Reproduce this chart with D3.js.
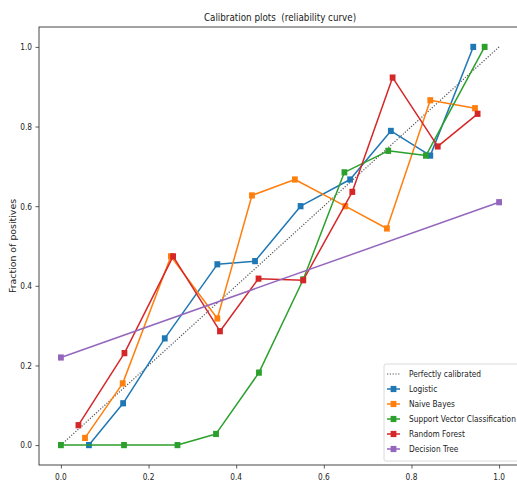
<!DOCTYPE html>
<html>
<head>
<meta charset="utf-8">
<script src="https://cdn.jsdelivr.net/npm/d3@7"></script>
<style>
  html, body { margin: 0; padding: 0; background: #fff; }
  svg { display: block; }
  text { font-family: "DejaVu Sans", sans-serif; fill: #222; white-space: pre; }
</style>
</head>
<body>
<svg id="chart" width="517" height="482"></svg>
<script>
// ---- data ----
const seriesNames = ["Logistic", "Naive Bayes", "Support Vector Classification", "Random Forest", "Decision Tree"];
const seriesColors = ["#1f77b4", "#ff7f0e", "#2ca02c", "#d62728", "#9467bd"];
const calibX = [0, 1];
const calibY = [0, 1];
const logX = [0.064, 0.142, 0.237, 0.357, 0.443, 0.547, 0.66, 0.753, 0.843, 0.941];
const logY = [0.0, 0.105, 0.268, 0.454, 0.462, 0.60, 0.667, 0.789, 0.727, 1.0];
const nbX = [0.055, 0.141, 0.251, 0.357, 0.436, 0.534, 0.649, 0.744, 0.843, 0.945];
const nbY = [0.018, 0.155, 0.474, 0.318, 0.627, 0.667, 0.60, 0.544, 0.866, 0.846];
const svcX = [0.0, 0.144, 0.266, 0.354, 0.452, 0.553, 0.647, 0.747, 0.833, 0.967];
const svcY = [0.0, 0.0, 0.0, 0.028, 0.182, 0.416, 0.685, 0.739, 0.727, 1.0];
const rfX = [0.04, 0.145, 0.256, 0.363, 0.451, 0.553, 0.665, 0.757, 0.86, 0.951];
const rfY = [0.05, 0.231, 0.474, 0.286, 0.418, 0.414, 0.636, 0.923, 0.75, 0.832];
const dtX = [0.0, 1.0];
const dtY = [0.22, 0.61];
const xTicks = [0.0, 0.2, 0.4, 0.6, 0.8, 1.0];
const yTicks = [0.0, 0.2, 0.4, 0.6, 0.8, 1.0];
const titleText = "Calibration plots  (reliability curve)";
const yLabelText = "Fraction of positives";
const calibLabel = "Perfectly calibrated";

const seriesX = [logX, nbX, svcX, rfX, dtX];
const seriesY = [logY, nbY, svcY, rfY, dtY];

// ---- layout ----
const svg = d3.select("#chart");
const L = 39, R = 521, T = 27, B = 465;
const SX = 0.79; // horizontal squeeze of text
const x = d3.scaleLinear().domain([-0.05, 1.05]).range([L, R]);
const y = d3.scaleLinear().domain([-0.05, 1.05]).range([B, T]);

function addText(g, tx, ty, str, size, anchor, rot) {
  const t = g.append("text")
    .attr("transform", `translate(${tx},${ty})` + (rot ? ` rotate(${rot})` : ` scale(${SX},1)`))
    .attr("font-size", size)
    .attr("text-anchor", anchor || "start")
    .attr("xml:space", "preserve")
    .text(str);
  return t;
}

// clip
svg.append("clipPath").attr("id", "clip")
  .append("rect").attr("x", L).attr("y", T).attr("width", R - L).attr("height", B - T);

// axes
const xAxis = d3.axisBottom(x).tickValues(xTicks).tickSize(3.5).tickFormat(d3.format(".1f"));
const yAxis = d3.axisLeft(y).tickValues(yTicks).tickSize(3.5).tickFormat(d3.format(".1f"));

const gx = svg.append("g").attr("transform", `translate(0,${B})`).call(xAxis);
const gy = svg.append("g").attr("transform", `translate(${L},0)`).call(yAxis);
[gx, gy].forEach(g => {
  g.select(".domain").remove();
  g.selectAll(".tick line").attr("stroke", "#333").attr("stroke-width", 0.8);
  g.selectAll(".tick text").remove();
});
xTicks.forEach(v => addText(svg, x(v), B + 15, d3.format(".1f")(v), 9.4, "middle"));
yTicks.forEach(v => addText(svg, L - 7, y(v) + 3.4, d3.format(".1f")(v), 9.4, "end"));

// spines
svg.append("rect").attr("x", L).attr("y", T).attr("width", R - L).attr("height", B - T)
  .attr("fill", "none").attr("stroke", "#333").attr("stroke-width", 0.9);

// title & y label
addText(svg, (L + R) / 2, 21, titleText, 11.1, "middle");
addText(svg, 16, (T + B) / 2, yLabelText, 9.4, "middle", -90);

const plot = svg.append("g").attr("clip-path", "url(#clip)");
const line = d3.line().x(d => x(d[0])).y(d => y(d[1]));

// perfectly calibrated
plot.append("path")
  .datum(calibX.map((v, i) => [v, calibY[i]]))
  .attr("d", line).attr("fill", "none")
  .attr("stroke", "#555").attr("stroke-width", 1.2).attr("stroke-dasharray", "1.2,1.6");

const mw = 5.8, mh = 6.2;
seriesNames.forEach((name, si) => {
  const pts = seriesX[si].map((v, i) => [v, seriesY[si][i]]);
  const g = plot.append("g");
  g.append("path").datum(pts).attr("d", line).attr("fill", "none")
    .attr("stroke", seriesColors[si]).attr("stroke-width", 1.5).attr("stroke-linejoin", "round");
  g.selectAll("rect").data(pts).enter().append("rect")
    .attr("x", d => x(d[0]) - mw / 2).attr("y", d => y(d[1]) - mh / 2)
    .attr("width", mw).attr("height", mh).attr("fill", seriesColors[si]);
});

// legend
const lg = svg.append("g");
lg.append("rect").attr("x", 384).attr("y", 364).attr("width", 140).attr("height", 97)
  .attr("rx", 2).attr("fill", "#fff").attr("fill-opacity", 0.85)
  .attr("stroke", "#d0d0d0").attr("stroke-width", 0.8);
const legendItems = [calibLabel].concat(seriesNames);
legendItems.forEach((name, i) => {
  const ly = 374 + i * 15;
  if (i === 0) {
    lg.append("line").attr("x1", 387).attr("x2", 400).attr("y1", ly).attr("y2", ly)
      .attr("stroke", "#555").attr("stroke-width", 1.2).attr("stroke-dasharray", "1.2,1.6");
  } else {
    const c = seriesColors[i - 1];
    lg.append("line").attr("x1", 387).attr("x2", 400).attr("y1", ly).attr("y2", ly)
      .attr("stroke", c).attr("stroke-width", 1.5);
    lg.append("rect").attr("x", 393.5 - mw / 2).attr("y", ly - mh / 2)
      .attr("width", mw).attr("height", mh).attr("fill", c);
  }
  addText(lg, 409, ly + 3.4, name, 9.4, "start");
});
</script>
</body>
</html>
